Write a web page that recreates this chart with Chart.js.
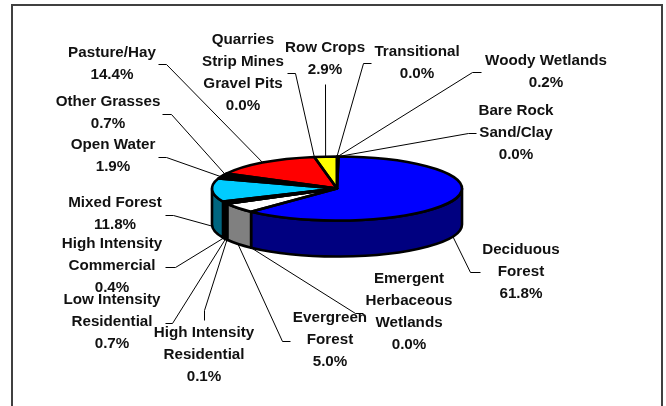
<!DOCTYPE html>
<html>
<head>
<meta charset="utf-8">
<style>
  html, body { margin: 0; padding: 0; background: #fff; overflow: hidden; }
  canvas { display: block; }
</style>
<script src="https://cdn.jsdelivr.net/npm/chart.js@4"></script>
</head>
<body>
<canvas id="chart" width="666" height="406"></canvas>
<script>
// slices in drawing order, clockwise from 12 o'clock
const categories = [
    ['Transitional'],
    ['Woody Wetlands'],
    ['Bare Rock', 'Sand/Clay'],
    ['Deciduous', 'Forest'],
    ['Emergent', 'Herbaceous', 'Wetlands'],
    ['Evergreen', 'Forest'],
    ['High Intensity', 'Residential'],
    ['Low Intensity', 'Residential'],
    ['High Intensity', 'Commercial'],
    ['Mixed Forest'],
    ['Open Water'],
    ['Other Grasses'],
    ['Pasture/Hay'],
    ['Quarries', 'Strip Mines', 'Gravel Pits'],
    ['Row Crops']
];
const percents = [0.0, 0.2, 0.0, 61.8, 0.0, 5.0, 0.1, 0.7, 0.4, 11.8, 1.9, 0.7, 14.4, 0.0, 2.9];
const topColors = ['#99ccff', '#ffffff', '#c0c0c0', '#0000ff', '#ff00ff', '#ffffff', '#ff0000', '#ffcc99', '#800000', '#00ccff', '#000000', '#000000', '#ff0000', '#808080', '#ffff00'];
const sideColors = ['#4d6680', '#808080', '#606060', '#000080', '#800080', '#808080', '#800000', '#80664d', '#400000', '#006680', '#000000', '#000000', '#800000', '#404040', '#808000'];

// callout layout: [label centre x, first line centre y, elbow points from label to pie]
const callouts = [
    [417, 52, [[371, 63], [363, 63]]],
    [546, 61, [[481, 72], [472, 72]]],
    [516, 111, [[476, 133], [468, 133]]],
    [521, 250, [[480, 272], [470, 272]]],
    [409, 279, [[363, 313], [355, 313]]],
    [330, 318, [[290, 341], [282, 341]]],
    [204, 333, [[204, 320], [204, 310]]],
    [112, 300, [[165, 323], [172, 323]]],
    [112, 244, [[165, 267], [175, 267]]],
    [115, 203, [[165, 215], [173, 215]]],
    [113, 145, [[158, 157], [166, 157]]],
    [108, 102, [[162, 114], [171, 114]]],
    [112, 53, [[158, 64], [166, 64]]],
    [243, 40, [[287, 73], [295, 73]]],
    [325, 48, [[325, 84]]]
];

const squash = 0.256;
const depth = 36;
const lineHeight = 21.8;
const edgeWidth = 2.6;

const pie3d = {
    id: 'pie3d',
    beforeDraw(chart) {
        const ctx = chart.ctx;
        ctx.save();
        ctx.strokeStyle = '#404040';
        ctx.lineWidth = 2;
        ctx.strokeRect(12, 5, 650, 440);
        ctx.restore();
    },
    beforeDatasetsDraw(chart) {
        const ctx = chart.ctx;
        const arcs = chart.getDatasetMeta(0).data;
        const { x, y, outerRadius: r } = arcs[0];
        const ry = r * squash;

        // side wall, only the part of each slice facing the viewer
        ctx.save();
        ctx.lineWidth = edgeWidth;
        ctx.strokeStyle = '#000';
        ctx.lineJoin = 'round';
        arcs.forEach((arc, i) => {
            const a0 = Math.max(arc.startAngle, 0);
            const a1 = Math.min(arc.endAngle, Math.PI);
            if (a1 <= a0) return;
            ctx.beginPath();
            ctx.ellipse(x, y, r, ry, 0, a0, a1);
            ctx.ellipse(x, y + depth, r, ry, 0, a1, a0, true);
            ctx.closePath();
            ctx.fillStyle = sideColors[i];
            ctx.fill();
            ctx.stroke();
        });
        ctx.restore();

        // the library draws the slices squashed into the top ellipse
        ctx.save();
        ctx.translate(x, y);
        ctx.scale(1, squash);
        ctx.translate(-x, -y);
    },
    afterDatasetsDraw(chart) {
        const ctx = chart.ctx;
        ctx.restore();
        const arcs = chart.getDatasetMeta(0).data;
        const { x, y, outerRadius: r } = arcs[0];
        const ry = r * squash;

        ctx.save();
        ctx.lineWidth = edgeWidth;
        ctx.strokeStyle = '#000';
        ctx.lineJoin = 'round';
        arcs.forEach(arc => {
            if (arc.endAngle - arc.startAngle < 0.001) return;
            ctx.beginPath();
            ctx.moveTo(x, y);
            ctx.ellipse(x, y, r, ry, 0, arc.startAngle, arc.endAngle);
            ctx.closePath();
            ctx.stroke();
        });
        ctx.restore();
    },
    afterDraw(chart) {
        const ctx = chart.ctx;
        const arcs = chart.getDatasetMeta(0).data;
        const { x, y, outerRadius: r } = arcs[0];
        const ry = r * squash;

        ctx.save();
        // leader lines end on the rim at the middle of the slice
        ctx.strokeStyle = '#000';
        ctx.lineWidth = 1;
        arcs.forEach((arc, i) => {
            const mid = (arc.startAngle + arc.endAngle) / 2;
            const tipX = x + r * Math.cos(mid);
            const tipY = y + ry * Math.sin(mid) + (Math.sin(mid) > 0 ? depth : 0);
            const pts = callouts[i][2];
            ctx.beginPath();
            ctx.moveTo(pts[0][0] + 0.5, pts[0][1] + 0.5);
            pts.slice(1).forEach(p => ctx.lineTo(p[0] + 0.5, p[1] + 0.5));
            ctx.lineTo(tipX, tipY);
            ctx.stroke();
        });

        ctx.fillStyle = '#111';
        ctx.font = 'bold 15.2px "Liberation Sans", Arial, sans-serif';
        ctx.textAlign = 'center';
        ctx.textBaseline = 'middle';
        categories.forEach((lines, i) => {
            const [cx, cy] = callouts[i];
            const text = lines.concat(percents[i].toFixed(1) + '%');
            text.forEach((t, k) => ctx.fillText(t, cx, cy + k * lineHeight));
        });
        ctx.restore();
    }
};

new Chart(document.getElementById('chart'), {
    type: 'pie',
    data: {
        labels: categories.map(c => c.join(' ')),
        datasets: [{
            data: percents,
            backgroundColor: topColors,
            borderWidth: 0,
            clip: false
        }]
    },
    options: {
        responsive: false,
        animation: false,
        layout: { padding: { left: 212, right: 204, top: 63.5, bottom: 92.5 } },
        plugins: { legend: { display: false }, tooltip: { enabled: false } }
    },
    plugins: [pie3d]
});
</script>
</body>
</html>
